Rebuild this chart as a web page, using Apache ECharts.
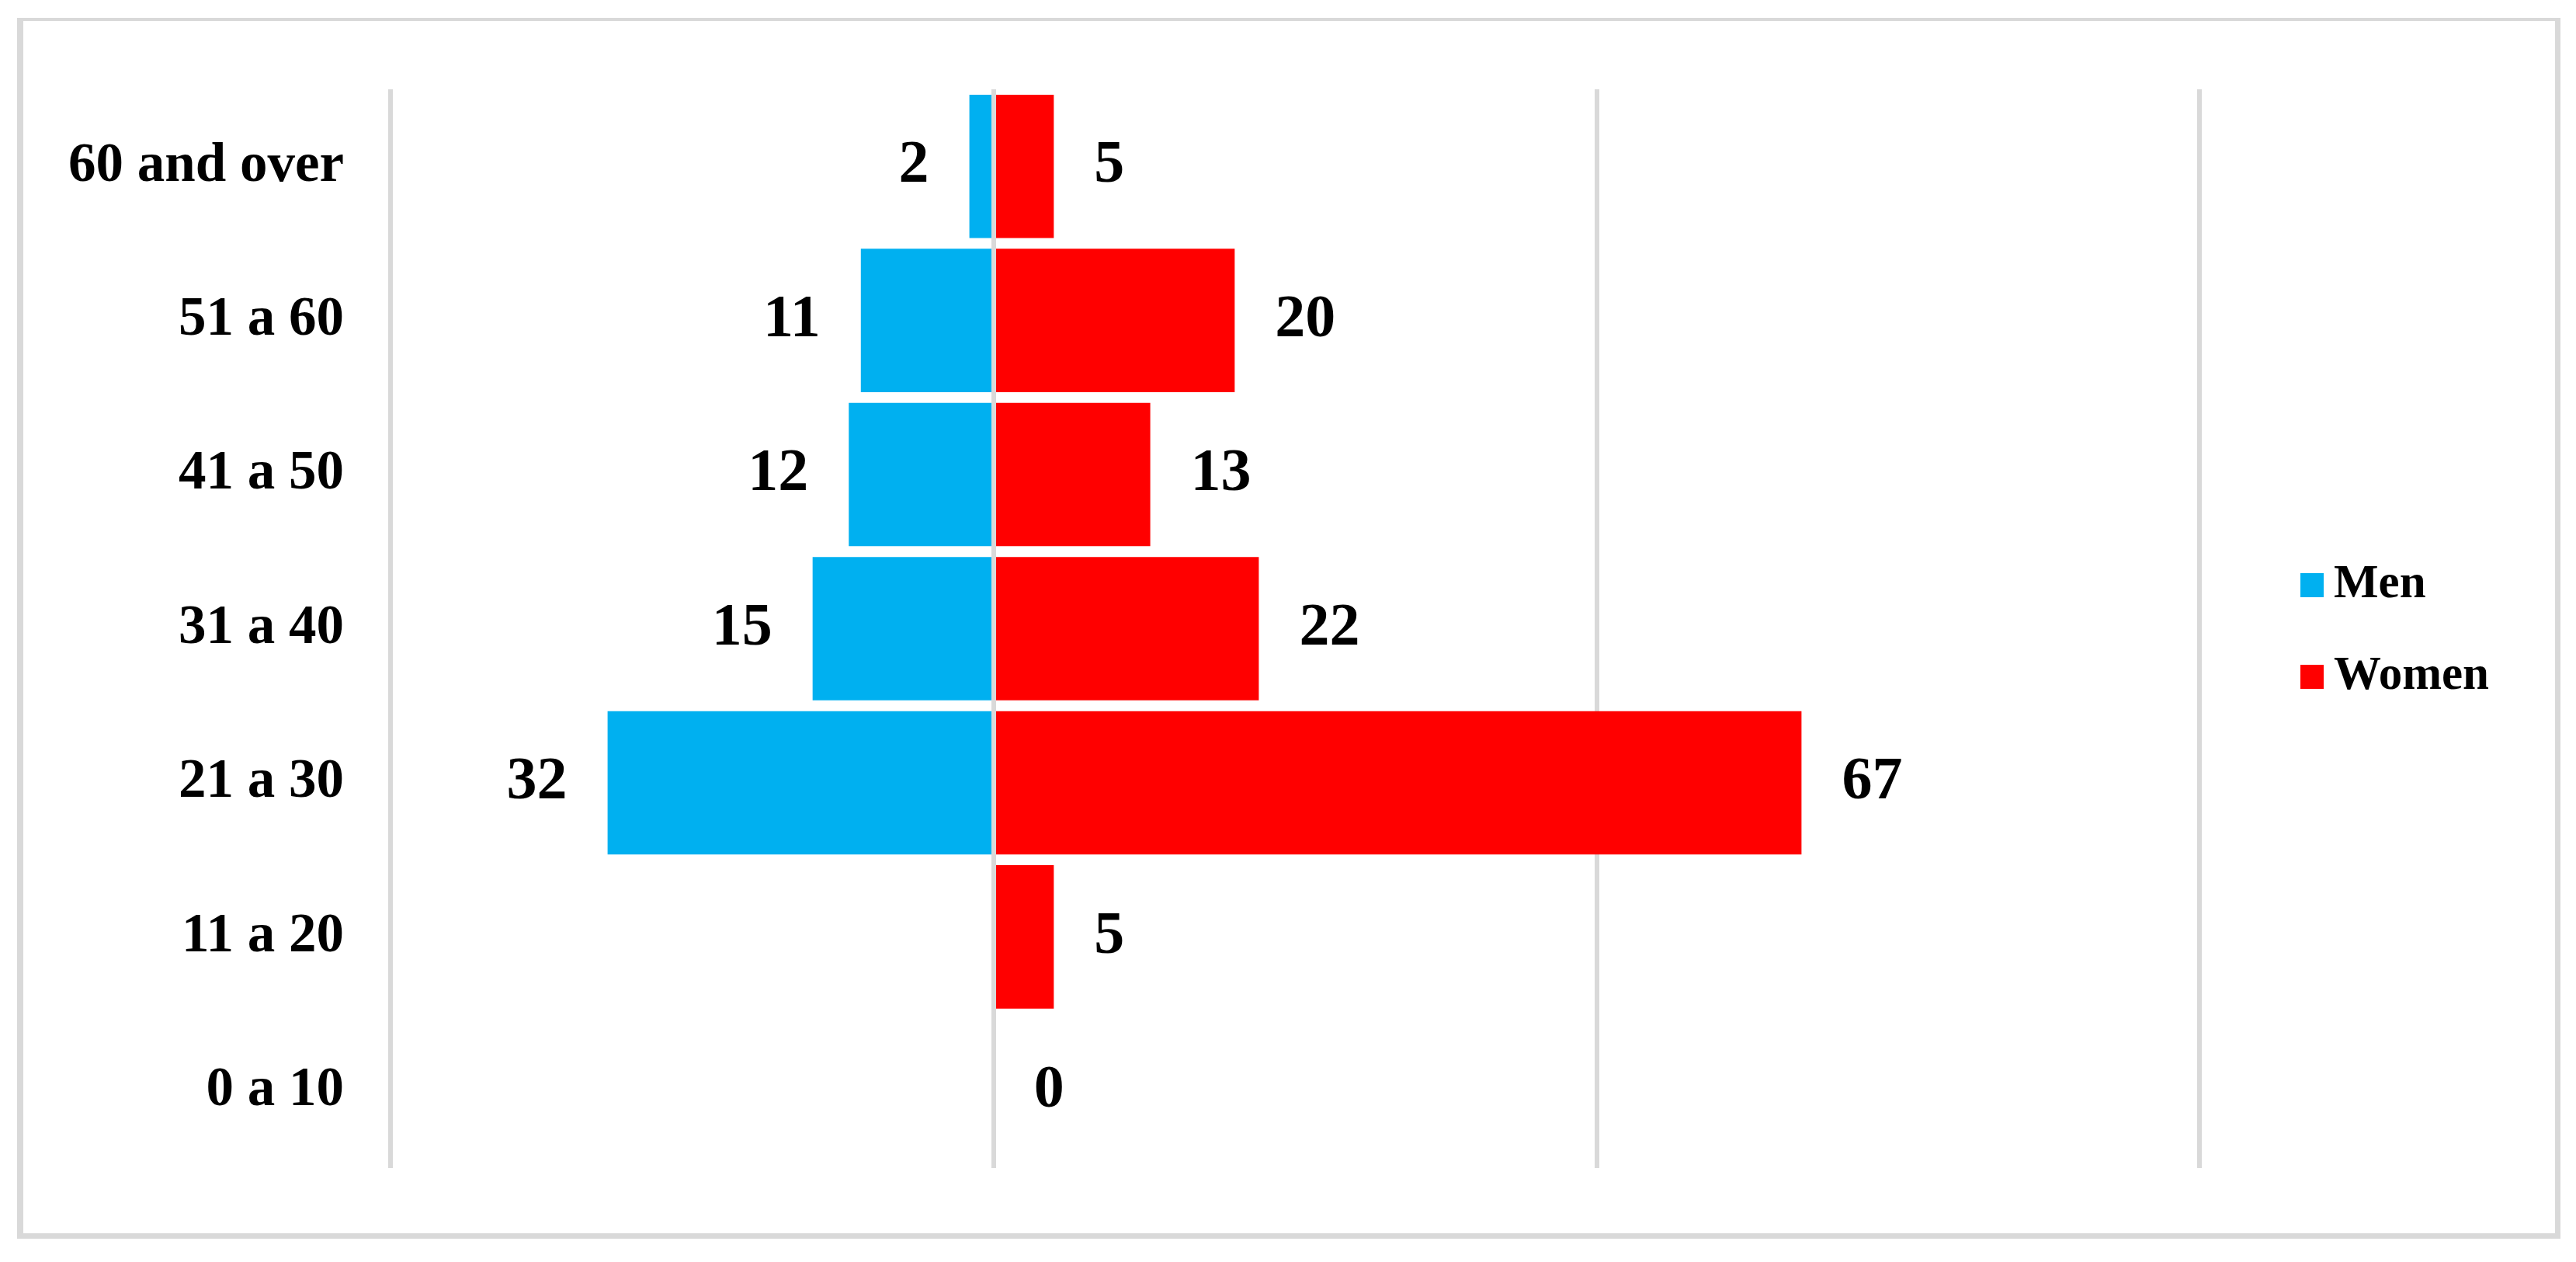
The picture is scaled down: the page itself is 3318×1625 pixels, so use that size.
<!DOCTYPE html>
<html>
<head>
<meta charset="utf-8">
<script src="https://cdn.jsdelivr.net/npm/echarts@6/dist/echarts.min.js"></script>
<style>
  html, body { margin: 0; padding: 0; background: #fff; }
  #frame {
    position: absolute; left: 22px; top: 23px; width: 3261px; height: 1561px;
    border-style: solid; border-color: #d9d9d9;
    border-width: 4px 7px 7px 8px;
  }
  #chart { position: absolute; left: 0; top: 0; width: 3318px; height: 1625px; }
</style>
</head>
<body>
<div id="frame"></div>
<div id="chart"></div>
<script>
// age groups, bottom to top
var ageGroups = ['0 a 10', '11 a 20', '21 a 30', '31 a 40', '41 a 50', '51 a 60', '60 and over'];
var men = [null, null, 32, 15, 12, 11, 2];
var women = [0, 5, 67, 22, 13, 20, 5];
var axisTicks = { min: -50, max: 100, interval: 50 };

var font = 'Liberation Serif';
var chart = echarts.init(document.getElementById('chart'));

chart.setOption({
  animation: false,
  grid: { left: 503, right: 485, top: 115, bottom: 121, containLabel: false },
  legend: {
    orient: 'vertical',
    left: 2958,
    top: 718,
    itemWidth: 30,
    itemHeight: 31,
    itemGap: 57,
    icon: 'rect',
    textStyle: { fontFamily: font, fontWeight: 'bold', fontSize: 61, color: '#000', padding: [0, 0, 0, 8] },
    data: ['Men', 'Women']
  },
  xAxis: {
    type: 'value',
    min: axisTicks.min,
    max: axisTicks.max,
    interval: axisTicks.interval,
    axisLabel: { show: false },
    axisLine: { show: false },
    axisTick: { show: false },
    splitLine: { lineStyle: { color: '#d9d9d9', width: 6 } }
  },
  yAxis: {
    type: 'category',
    data: ageGroups,
    axisLine: { show: false },
    axisTick: { show: false },
    axisLabel: {
      margin: 60,
      fontFamily: font,
      fontWeight: 'bold',
      fontSize: 71,
      color: '#000'
    }
  },
  series: [
    {
      name: 'Men',
      type: 'bar',
      data: men.map(function (v) { return v == null ? '-' : -v; }),
      barCategoryGap: '7%',
      barGap: '-100%',
      itemStyle: { color: '#00b0f0' },
      label: {
        show: true,
        position: 'left',
        distance: 52,
        fontFamily: font,
        fontWeight: 'bold',
        fontSize: 78,
        color: '#000',
        formatter: function (p) { return Math.abs(p.value); }
      }
    },
    {
      name: 'Women',
      type: 'bar',
      data: women,
      barCategoryGap: '7%',
      barGap: '-100%',
      itemStyle: { color: '#ff0000' },
      label: {
        show: true,
        position: 'right',
        distance: 52,
        fontFamily: font,
        fontWeight: 'bold',
        fontSize: 78,
        color: '#000'
      },
      markLine: {
        silent: true,
        symbol: 'none',
        z: 10,
        label: { show: false },
        lineStyle: { color: '#d9d9d9', width: 6, type: 'solid' },
        data: [{ xAxis: 0 }]
      }
    }
  ]
});
</script>
</body>
</html>
